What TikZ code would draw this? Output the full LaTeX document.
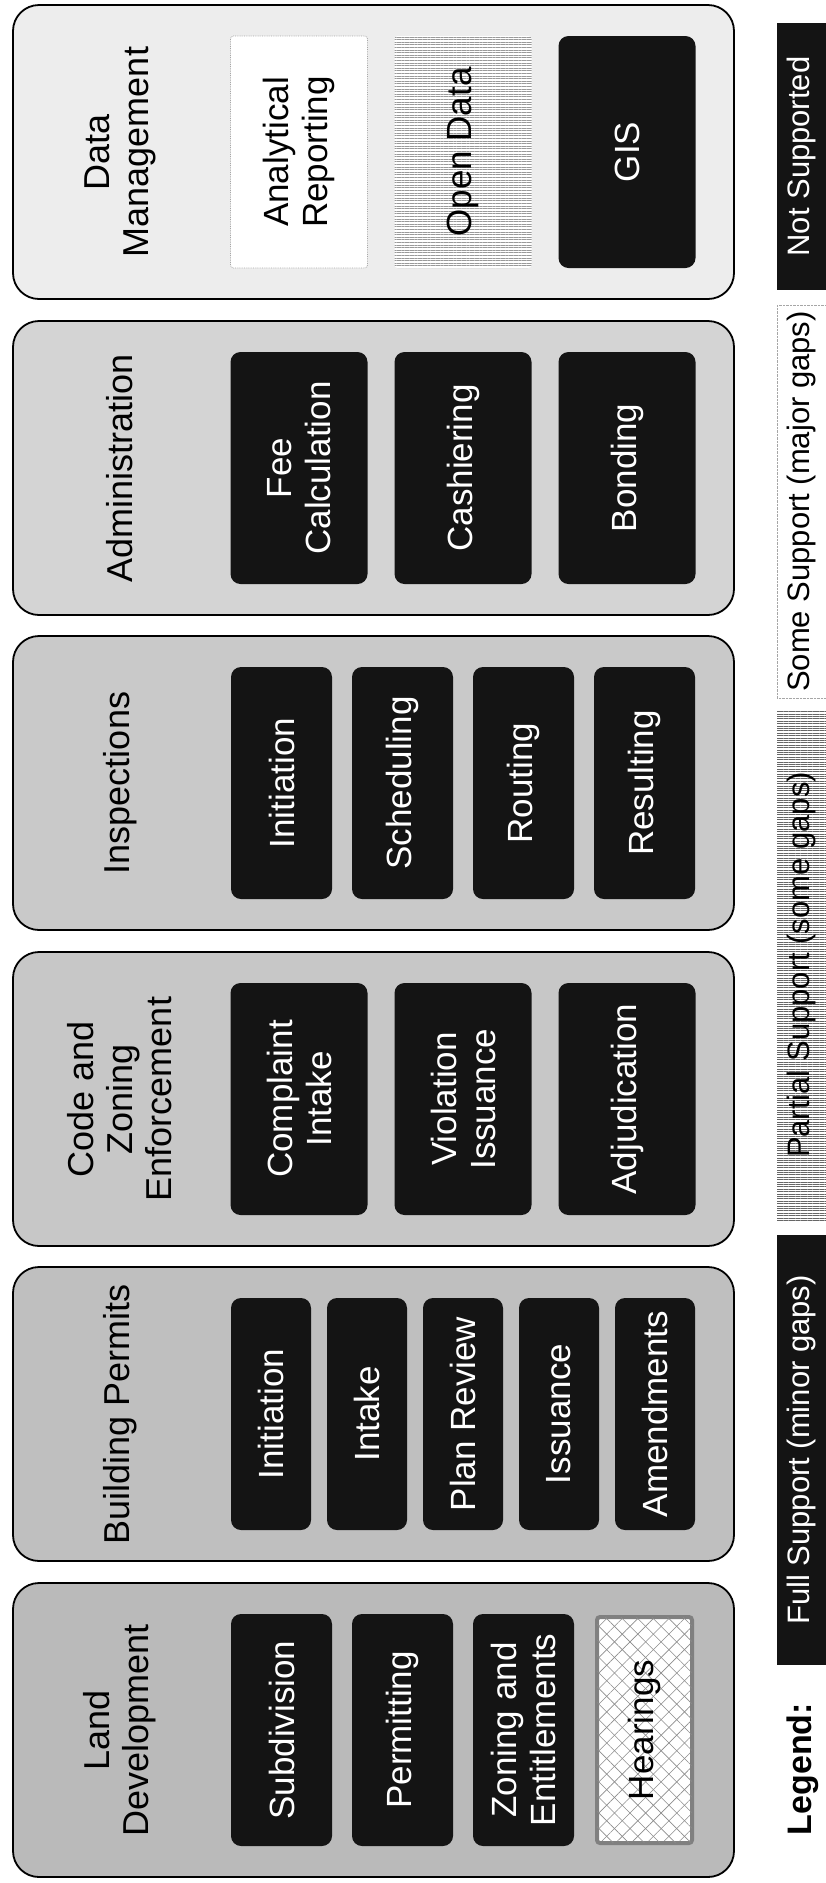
\documentclass[tikz,border=0pt]{standalone}
\usepackage{fontspec}
\setmainfont{Liberation Sans}
\usetikzlibrary{patterns.meta}

\definecolor{boxblack}{HTML}{141414}

\newcommand\titlefont{\fontsize{36}{39}\selectfont}
\newcommand\boxfont{\fontsize{35}{39}\selectfont}
\newcommand\legendfont{\fontsize{31}{34}\selectfont}

\tikzset{
  panel/.style={draw=black, line width=1.8pt, rounded corners=26pt, rotate=90,
    minimum width=294pt, minimum height=721pt, inner sep=0pt},
  paneltitle/.style={rotate=90, align=center, font=\titlefont},
  taskcell/.style={rotate=90, align=center, rounded corners=10pt, inner sep=0pt,
    minimum width=232pt, font=\boxfont},
  fullbox/.style={taskcell, fill=boxblack, text=white},
  somebox/.style={taskcell, rounded corners=3pt, fill=white, draw=black!35,
    densely dotted, line width=0.8pt},
  partbox/.style={taskcell, rounded corners=3pt, preaction={fill=white},
    pattern={Lines[angle=0,distance=2.6pt,line width=0.9pt]}, pattern color=black!40},
  hearbox/.style={taskcell, rounded corners=3pt, draw=black!50, line width=4pt,
    preaction={fill=white},
    pattern={Lines[angle=45,distance=11pt,line width=0.6pt]}, pattern color=black!45,
    postaction={pattern={Lines[angle=-45,distance=11pt,line width=0.6pt]},
      pattern color=black!45}},
  col3/.style={minimum height=137pt},
  col4/.style={minimum height=101pt},
  col5/.style={minimum height=80pt},
  legbox/.style={rotate=90, inner sep=0pt, minimum height=49pt, font=\legendfont},
}

\begin{document}
\begin{tikzpicture}[x=1pt,y=-1pt]
  \useasboundingbox (0,0) rectangle (825,1883);

  % panels
  \foreach \name/\top/\shade/\title in {
      data/5/7/{Data\\Management},
      admin/321/17/Administration,
      insp/636/21/Inspections,
      code/952/22/{Code and\\Zoning\\Enforcement},
      build/1267/25/Building Permits,
      land/1583/27/{Land\\Development}} {
    \node[panel, fill=black!\shade] (\name) at (373.5,{\top+147}) {};
    \node[paneltitle] (\name-title) at (120,{\top+147}) {\title};
  }

  % data management
  \node[somebox, col3] (data-1) at (299,152) {Analytical\\Reporting};
  \node[partbox, col3] (data-2) at (463,152) {Open Data};
  \node[fullbox, col3] (data-3) at (627,152) {GIS};

  % administration
  \foreach \task [count=\i] in {{Fee\\Calculation},Cashiering,Bonding}
    \node[fullbox, col3] (admin-\i) at ({299+(\i-1)*164},468) {\task};

  % inspections
  \foreach \task [count=\i] in {Initiation,Scheduling,Routing,Resulting}
    \node[fullbox, col4] (insp-\i) at ({281.5+(\i-1)*121},783) {\task};

  % code and zoning enforcement
  \foreach \task [count=\i] in {{Complaint\\Intake},{Violation\\Issuance},Adjudication}
    \node[fullbox, col3] (code-\i) at ({299+(\i-1)*164},1099) {\task};

  % building permits
  \foreach \task [count=\i] in {Initiation,Intake,Plan Review,Issuance,Amendments}
    \node[fullbox, col5] (build-\i) at ({271+(\i-1)*96},1414) {\task};

  % land development
  \foreach \task [count=\i] in {Subdivision,Permitting,{Zoning and\\Entitlements}}
    \node[fullbox, col4] (land-\i) at ({281.5+(\i-1)*121},1730) {\task};
  \node[hearbox, col4, minimum height=95pt, minimum width=226pt] (land-4) at (644.5,1730) {Hearings};

  % legend
  \node[legbox, minimum width=267pt, fill=boxblack, text=white]
    (leg-none) at (801.5,156.5) {Not Supported};
  \node[legbox, minimum width=393pt, fill=white, draw=black!35, densely dotted]
    (leg-some) at (801.5,501.5) {Some Support (major gaps)};
  \node[legbox, minimum width=510pt, preaction={fill=white},
    pattern={Lines[angle=0,distance=2.4pt,line width=1pt]}, pattern color=black!60]
    (leg-part) at (801.5,965) {Partial Support (some gaps)};
  \node[legbox, minimum width=430pt, fill=boxblack, text=white]
    (leg-full) at (801.5,1450) {Full Support (minor gaps)};
  \node[rotate=90, font=\fontsize{34}{36}\selectfont\bfseries]
    (leg-title) at (803,1769) {Legend:};

\end{tikzpicture}
\end{document}
